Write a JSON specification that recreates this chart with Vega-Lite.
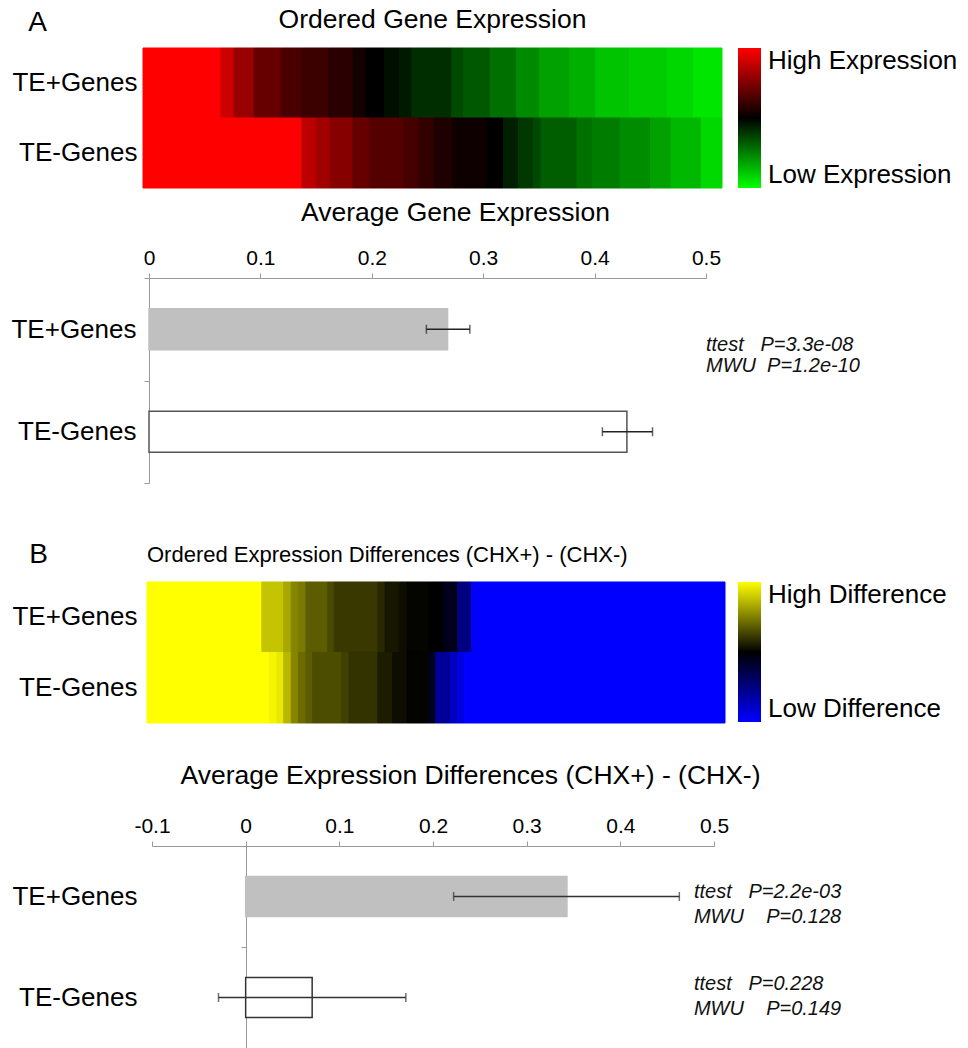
{
  "$schema": "https://vega.github.io/schema/vega-lite/v6.json",
  "background": "white",
  "padding": {"left": 10, "top": 6, "right": 5, "bottom": 0},
  "config": {
    "font": "Liberation Sans",
    "view": {"stroke": null},
    "axis": {"grid": false, "labelColor": "#000", "labelFont": "Liberation Sans"},
    "title": {"font": "Liberation Sans", "fontWeight": "normal", "color": "#000"},
    "legend": {"labelFont": "Liberation Sans", "labelColor": "#000"}
  },
  "bounds": "flush",
  "spacing": 90,
  "resolve": {
    "scale": {"x": "independent", "y": "independent", "color": "independent", "fill": "independent", "stroke": "independent"},
    "legend": {"color": "independent"},
    "axis": {"x": "independent", "y": "independent"}
  },
  "datasets": {
    "heatA": [
      {"row": "TE+Genes", "x0": 0, "x1": 13.47, "v": 1},
      {"row": "TE+Genes", "x0": 13.47, "x1": 15.74, "v": 0.8},
      {"row": "TE+Genes", "x0": 15.74, "x1": 19.19, "v": 0.6},
      {"row": "TE+Genes", "x0": 19.19, "x1": 23.88, "v": 0.4},
      {"row": "TE+Genes", "x0": 23.88, "x1": 27.33, "v": 0.29},
      {"row": "TE+Genes", "x0": 27.33, "x1": 32.01, "v": 0.23},
      {"row": "TE+Genes", "x0": 32.01, "x1": 36.24, "v": 0.17},
      {"row": "TE+Genes", "x0": 36.24, "x1": 38.52, "v": 0.08},
      {"row": "TE+Genes", "x0": 38.52, "x1": 41.77, "v": 0},
      {"row": "TE+Genes", "x0": 41.77, "x1": 44.37, "v": -0.06},
      {"row": "TE+Genes", "x0": 44.37, "x1": 46.45, "v": -0.1},
      {"row": "TE+Genes", "x0": 46.45, "x1": 53.35, "v": -0.18},
      {"row": "TE+Genes", "x0": 53.35, "x1": 55.43, "v": -0.29},
      {"row": "TE+Genes", "x0": 55.43, "x1": 59.99, "v": -0.35},
      {"row": "TE+Genes", "x0": 59.99, "x1": 64.54, "v": -0.44},
      {"row": "TE+Genes", "x0": 64.54, "x1": 68.45, "v": -0.54},
      {"row": "TE+Genes", "x0": 68.45, "x1": 73.65, "v": -0.63},
      {"row": "TE+Genes", "x0": 73.65, "x1": 78.2, "v": -0.69},
      {"row": "TE+Genes", "x0": 78.2, "x1": 84.06, "v": -0.77},
      {"row": "TE+Genes", "x0": 84.06, "x1": 90.57, "v": -0.8},
      {"row": "TE+Genes", "x0": 90.57, "x1": 95.12, "v": -0.84},
      {"row": "TE+Genes", "x0": 95.12, "x1": 100, "v": -0.9},
      {"row": "TE-Genes", "x0": 0, "x1": 27.46, "v": 1},
      {"row": "TE-Genes", "x0": 27.46, "x1": 29.93, "v": 0.73},
      {"row": "TE-Genes", "x0": 29.93, "x1": 32.34, "v": 0.63},
      {"row": "TE-Genes", "x0": 32.34, "x1": 36.24, "v": 0.53},
      {"row": "TE-Genes", "x0": 36.24, "x1": 39.17, "v": 0.4},
      {"row": "TE-Genes", "x0": 39.17, "x1": 45.02, "v": 0.33},
      {"row": "TE-Genes", "x0": 45.02, "x1": 47.63, "v": 0.27},
      {"row": "TE-Genes", "x0": 47.63, "x1": 50.23, "v": 0.2},
      {"row": "TE-Genes", "x0": 50.23, "x1": 53.48, "v": 0.12},
      {"row": "TE-Genes", "x0": 53.48, "x1": 59.34, "v": 0.06},
      {"row": "TE-Genes", "x0": 59.34, "x1": 62.26, "v": 0},
      {"row": "TE-Genes", "x0": 62.26, "x1": 64.87, "v": -0.12},
      {"row": "TE-Genes", "x0": 64.87, "x1": 67.47, "v": -0.22},
      {"row": "TE-Genes", "x0": 67.47, "x1": 68.77, "v": -0.29},
      {"row": "TE-Genes", "x0": 68.77, "x1": 74.95, "v": -0.37},
      {"row": "TE-Genes", "x0": 74.95, "x1": 77.55, "v": -0.44},
      {"row": "TE-Genes", "x0": 77.55, "x1": 82.43, "v": -0.49},
      {"row": "TE-Genes", "x0": 82.43, "x1": 87.64, "v": -0.55},
      {"row": "TE-Genes", "x0": 87.64, "x1": 91.22, "v": -0.63},
      {"row": "TE-Genes", "x0": 91.22, "x1": 96.42, "v": -0.72},
      {"row": "TE-Genes", "x0": 96.42, "x1": 100, "v": -0.85}
    ],
    "heatB": [
      {"row": "TE+Genes", "x0": 0, "x1": 19.87, "v": 1},
      {"row": "TE+Genes", "x0": 19.87, "x1": 23.65, "v": 0.77},
      {"row": "TE+Genes", "x0": 23.65, "x1": 24.95, "v": 0.66},
      {"row": "TE+Genes", "x0": 24.95, "x1": 26.19, "v": 0.52},
      {"row": "TE+Genes", "x0": 26.19, "x1": 27.49, "v": 0.48},
      {"row": "TE+Genes", "x0": 27.49, "x1": 31.27, "v": 0.36},
      {"row": "TE+Genes", "x0": 31.27, "x1": 32.38, "v": 0.29},
      {"row": "TE+Genes", "x0": 32.38, "x1": 39.93, "v": 0.22},
      {"row": "TE+Genes", "x0": 39.93, "x1": 41.17, "v": 0.16},
      {"row": "TE+Genes", "x0": 41.17, "x1": 43.65, "v": 0.09},
      {"row": "TE+Genes", "x0": 43.65, "x1": 44.95, "v": 0.055},
      {"row": "TE+Genes", "x0": 44.95, "x1": 48.73, "v": 0.02},
      {"row": "TE+Genes", "x0": 48.73, "x1": 51.21, "v": 0},
      {"row": "TE+Genes", "x0": 51.21, "x1": 53.75, "v": -0.1},
      {"row": "TE+Genes", "x0": 53.75, "x1": 56.16, "v": -0.5},
      {"row": "TE+Genes", "x0": 56.16, "x1": 100, "v": -1},
      {"row": "TE-Genes", "x0": 0, "x1": 21.17, "v": 1},
      {"row": "TE-Genes", "x0": 21.17, "x1": 22.48, "v": 0.96},
      {"row": "TE-Genes", "x0": 22.48, "x1": 23.65, "v": 0.91},
      {"row": "TE-Genes", "x0": 23.65, "x1": 24.95, "v": 0.72},
      {"row": "TE-Genes", "x0": 24.95, "x1": 26.19, "v": 0.52},
      {"row": "TE-Genes", "x0": 26.19, "x1": 27.49, "v": 0.42},
      {"row": "TE-Genes", "x0": 27.49, "x1": 28.66, "v": 0.36},
      {"row": "TE-Genes", "x0": 28.66, "x1": 33.68, "v": 0.3},
      {"row": "TE-Genes", "x0": 33.68, "x1": 34.92, "v": 0.25},
      {"row": "TE-Genes", "x0": 34.92, "x1": 39.93, "v": 0.2},
      {"row": "TE-Genes", "x0": 39.93, "x1": 42.48, "v": 0.11},
      {"row": "TE-Genes", "x0": 42.48, "x1": 44.95, "v": 0.055},
      {"row": "TE-Genes", "x0": 44.95, "x1": 48.73, "v": 0.01},
      {"row": "TE-Genes", "x0": 48.73, "x1": 49.97, "v": -0.12},
      {"row": "TE-Genes", "x0": 49.97, "x1": 52.51, "v": -0.6},
      {"row": "TE-Genes", "x0": 52.51, "x1": 53.75, "v": -0.75},
      {"row": "TE-Genes", "x0": 53.75, "x1": 54.98, "v": -0.88},
      {"row": "TE-Genes", "x0": 54.98, "x1": 100, "v": -1}
    ],
    "barA": [
      {"gene": "TE+Genes", "mean": 0.268, "lo": 0.249, "hi": 0.288},
      {"gene": "TE-Genes", "mean": 0.429, "lo": 0.407, "hi": 0.452}
    ],
    "barB": [
      {"gene": "TE+Genes", "mean": 0.343, "lo": 0.222, "hi": 0.463},
      {"gene": "TE-Genes", "mean": 0.071, "lo": -0.029, "hi": 0.171}
    ],
    "statsA": [
      {"gene": "TE+Genes", "t": "ttest\u00a0\u00a0\u00a0P=3.3e-08\nMWU\u00a0\u00a0P=1.2e-10"}
    ],
    "statsB": [
      {"gene": "TE+Genes", "t": "ttest\u00a0\u00a0\u00a0P=2.2e-03\nMWU\u00a0\u00a0\u00a0\u00a0P=0.128"},
      {"gene": "TE-Genes", "t": "ttest\u00a0\u00a0\u00a0P=0.228\nMWU\u00a0\u00a0\u00a0\u00a0P=0.149"}
    ]
  },
  "vconcat": [
    {
      "name": "heatA",
      "width": 575,
      "height": 140,
      "title": {"text": "Ordered Gene Expression", "fontSize": 26.5, "anchor": "middle", "frame": "group", "offset": -25, "dx": -2},
      "data": {"name": "heatA"},
      "mark": {"type": "rect", "strokeWidth": 1, "stroke": {"expr": "scale('heatA_color', datum.v)"}},
      "encoding": {
        "x": {"field": "x0", "type": "quantitative", "scale": {"domain": [0, 100], "range": [-4, 575], "nice": false, "zero": false}, "axis": null},
        "x2": {"field": "x1"},
        "y": {"field": "row", "type": "nominal", "sort": ["TE+Genes", "TE-Genes"],
              "scale": {"domain": ["TE+Genes", "TE-Genes"], "paddingInner": 0, "paddingOuter": 0},
              "axis": {"title": "A", "titleAngle": 0, "titleX": -110, "titleY": -18, "titleAlign": "center", "titleBaseline": "alphabetic", "titleFontSize": 28, "titleFontWeight": "normal", "domain": false, "ticks": false, "labelFontSize": 26, "labelPadding": 10}},
        "color": {"field": "v", "type": "quantitative",
                  "scale": {"domain": [-1, 0, 1], "range": ["#00ff00", "#000000", "#ff0000"], "interpolate": "rgb"},
                  "legend": {"type": "gradient", "orient": "none", "legendX": 591, "legendY": 0, "direction": "vertical", "gradientLength": 140, "gradientThickness": 23, "gradientStrokeWidth": 0, "values": [-1, 1], "labelExpr": "datum.value > 0 ? 'High Expression' : 'Low Expression'", "labelFontSize": 26, "labelOffset": 7, "title": null}}
      }
    },
    {
      "width": 559,
      "height": 205,
      "title": {"text": "Average Gene Expression", "fontSize": 26.5, "anchor": "middle", "frame": "group", "offset": 21, "dx": 29},
      "data": {"name": "barA"},
      "encoding": {
        "y": {"field": "gene", "type": "nominal", "sort": ["TE+Genes", "TE-Genes"],
              "scale": {"domain": ["TE+Genes", "TE-Genes"], "paddingInner": 0, "paddingOuter": 0},
              "axis": {"title": null, "domainColor": "#999", "tickColor": "#999", "tickSize": 5, "tickBand": "extent", "labelFontSize": 26, "labelPadding": 8, "offset": -2}}
      },
      "layer": [
        {
          "mark": {"type": "bar", "strokeWidth": 1.5, "size": 41},
          "encoding": {
            "x": {"field": "mean", "type": "quantitative", "title": null,
                  "scale": {"domain": [0, 0.5], "range": [2, 559], "nice": false},
                  "axis": {"orient": "top", "values": [0, 0.1, 0.2, 0.3, 0.4, 0.5], "labelExpr": "datum.value + ''", "domainColor": "#999", "tickColor": "#999", "tickSize": 5, "labelFontSize": 21, "labelPadding": 5, "labelFlush": false, "title": null}},
            "fill": {"field": "gene", "type": "nominal", "scale": {"domain": ["TE+Genes", "TE-Genes"], "range": ["#c0c0c0", "#ffffff"]}, "legend": null},
            "stroke": {"field": "gene", "type": "nominal", "scale": {"domain": ["TE+Genes", "TE-Genes"], "range": ["#c0c0c0", "#555555"]}, "legend": null}
          }
        },
        {
          "mark": {"type": "rule", "color": "#222", "strokeWidth": 1.5},
          "encoding": {"x": {"field": "lo", "type": "quantitative", "title": null}, "x2": {"field": "hi"}}
        },
        {
          "mark": {"type": "tick", "color": "#222", "thickness": 1.5, "size": 9},
          "encoding": {"x": {"field": "lo", "type": "quantitative", "title": null}}
        },
        {
          "mark": {"type": "tick", "color": "#222", "thickness": 1.5, "size": 9},
          "encoding": {"x": {"field": "hi", "type": "quantitative", "title": null}}
        },
        {
          "data": {"name": "statsA"},
          "mark": {"type": "text", "align": "left", "baseline": "middle", "fontStyle": "italic", "fontSize": 20, "lineBreak": "\n", "lineHeight": 21, "dy": 16, "color": "#111"},
          "encoding": {"x": {"datum": 0.5, "type": "quantitative"}, "text": {"field": "t", "type": "nominal"}}
        }
      ]
    },
    {
      "name": "heatB",
      "width": 578,
      "height": 183,
      "title": {"text": "Ordered Expression Differences (CHX+) - (CHX-)", "fontSize": 22, "anchor": "start", "frame": "group", "offset": -27},
      "data": {"name": "heatB"},
      "mark": {"type": "rect", "strokeWidth": 1, "stroke": {"expr": "scale('heatB_color', datum.v)"}},
      "encoding": {
        "x": {"field": "x0", "type": "quantitative", "scale": {"domain": [0, 100], "range": [0, 578], "nice": false, "zero": false}, "axis": null},
        "x2": {"field": "x1"},
        "y": {"field": "row", "type": "nominal", "sort": ["TE+Genes", "TE-Genes"],
              "scale": {"domain": ["TE+Genes", "TE-Genes"], "paddingInner": 0, "paddingOuter": 0.2979, "align": 0.214},
              "axis": {"title": "B", "titleAngle": 0, "titleX": -109, "titleY": -11, "titleAlign": "center", "titleBaseline": "alphabetic", "titleFontSize": 28, "titleFontWeight": "normal", "domain": false, "ticks": false, "labelFontSize": 26, "labelPadding": 10}},
        "color": {"field": "v", "type": "quantitative",
                  "scale": {"domain": [-1, 0, 1], "range": ["#0000ff", "#000000", "#ffff00"], "interpolate": "rgb"},
                  "legend": {"type": "gradient", "orient": "none", "legendX": 591, "legendY": 9, "direction": "vertical", "gradientLength": 140, "gradientThickness": 23, "gradientStrokeWidth": 0, "values": [-1, 1], "labelExpr": "datum.value > 0 ? 'High Difference' : 'Low Difference'", "labelFontSize": 26, "labelOffset": 7, "title": null}}
      }
    },
    {
      "width": 567,
      "height": 202,
      "title": {"text": "Average Expression Differences (CHX+) - (CHX-)", "fontSize": 26.5, "anchor": "middle", "frame": "group", "offset": 26, "dx": 40},
      "data": {"name": "barB"},
      "encoding": {
        "y": {"field": "gene", "type": "nominal", "sort": ["TE+Genes", "TE-Genes"],
              "scale": {"domain": ["TE+Genes", "TE-Genes"], "paddingInner": 0, "paddingOuter": 0},
              "axis": {"title": null, "domainColor": "#999", "tickColor": "#999", "tickSize": 5, "tickBand": "extent", "labelFontSize": 26, "labelPadding": 104, "offset": -99}}
      },
      "layer": [
        {
          "mark": {"type": "bar", "strokeWidth": 1.5, "size": 40},
          "encoding": {
            "x": {"field": "mean", "type": "quantitative", "title": null,
                  "scale": {"domain": [-0.1, 0.5], "range": [5, 567], "nice": false, "zero": false},
                  "axis": {"orient": "top", "values": [-0.1, 0, 0.1, 0.2, 0.3, 0.4, 0.5], "labelExpr": "datum.value + ''", "domainColor": "#999", "tickColor": "#999", "tickSize": 5, "labelFontSize": 21, "labelPadding": 5, "labelFlush": false, "title": null}},
            "x2": {"datum": 0},
            "fill": {"field": "gene", "type": "nominal", "scale": {"domain": ["TE+Genes", "TE-Genes"], "range": ["#c0c0c0", "#ffffff"]}, "legend": null},
            "stroke": {"field": "gene", "type": "nominal", "scale": {"domain": ["TE+Genes", "TE-Genes"], "range": ["#c0c0c0", "#333333"]}, "legend": null}
          }
        },
        {
          "mark": {"type": "rule", "color": "#333", "strokeWidth": 1.5},
          "encoding": {"x": {"field": "lo", "type": "quantitative", "title": null}, "x2": {"field": "hi"}}
        },
        {
          "mark": {"type": "tick", "color": "#333", "thickness": 1.5, "size": 9},
          "encoding": {"x": {"field": "lo", "type": "quantitative", "title": null}}
        },
        {
          "mark": {"type": "tick", "color": "#333", "thickness": 1.5, "size": 9},
          "encoding": {"x": {"field": "hi", "type": "quantitative", "title": null}}
        },
        {
          "data": {"name": "statsB"},
          "transform": [{"filter": "datum.gene == 'TE+Genes'"}],
          "mark": {"type": "text", "align": "left", "baseline": "middle", "fontStyle": "italic", "fontSize": 20, "lineBreak": "\n", "lineHeight": 25, "dy": -5, "color": "#111"},
          "encoding": {"x": {"datum": 0.4786, "type": "quantitative"}, "y": {"field": "gene", "type": "nominal"}, "text": {"field": "t", "type": "nominal"}}
        },
        {
          "data": {"name": "statsB"},
          "transform": [{"filter": "datum.gene == 'TE-Genes'"}],
          "mark": {"type": "text", "align": "left", "baseline": "middle", "fontStyle": "italic", "fontSize": 20, "lineBreak": "\n", "lineHeight": 25, "dy": -14, "color": "#111"},
          "encoding": {"x": {"datum": 0.4786, "type": "quantitative"}, "y": {"field": "gene", "type": "nominal"}, "text": {"field": "t", "type": "nominal"}}
        }
      ]
    }
  ]
}
